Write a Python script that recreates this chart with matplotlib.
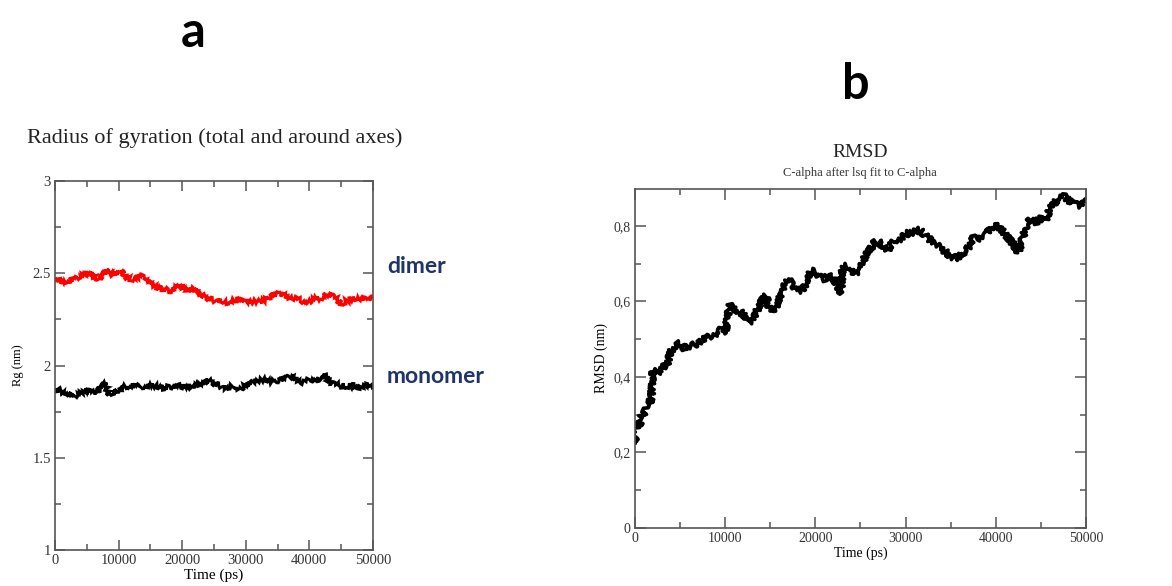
import matplotlib
matplotlib.use("Agg")
import matplotlib.pyplot as plt
from matplotlib.ticker import MultipleLocator, FixedLocator

SERIF = "Liberation Serif"
LABEL_FONT = "Lato"
NAVY = "#1f3566"

dimer_time = [0, 1000, 2000, 3000, 4000, 5000, 6000, 7000, 8000, 9000, 10000,
              10500, 11000, 12000, 13000, 14000, 15000, 16000, 17000, 18000,
              19000, 20000, 21000, 22000, 23000, 24000, 25000, 26000, 27000,
              28000, 29000, 30000, 31000, 32000, 33000, 34000, 35000, 36000,
              37000, 38000, 39000, 40000, 41000, 42000, 43000, 44000, 45000,
              46000, 47000, 48000, 49000, 50000]
dimer_rg = [2.47, 2.455, 2.46, 2.47, 2.48, 2.505, 2.49, 2.465, 2.52, 2.49, 2.50,
            2.52, 2.485, 2.465, 2.48, 2.49, 2.445, 2.425, 2.418, 2.405,
            2.418, 2.435, 2.405, 2.418, 2.378, 2.362, 2.352, 2.35, 2.34,
            2.358, 2.358, 2.345, 2.348, 2.348, 2.352, 2.38, 2.39, 2.38,
            2.37, 2.365, 2.35, 2.35, 2.362, 2.368, 2.39, 2.37, 2.338,
            2.352, 2.36, 2.362, 2.37, 2.36]

monomer_time = [0, 1000, 2000, 3000, 4000, 5000, 6000, 7000, 7800, 8300, 9000,
                10000, 11000, 12000, 13000, 14000, 15000, 16000, 17000, 18000,
                19000, 20000, 21000, 22000, 23000, 24000, 25000, 26000, 27000,
                28000, 29000, 30000, 31000, 32000, 33000, 34000, 35000, 36000,
                37000, 38000, 39000, 40000, 41000, 42000, 42500, 43000, 44000,
                45000, 46000, 47000, 48000, 49000, 50000]
monomer_rg = [1.866, 1.866, 1.85, 1.83, 1.85, 1.866, 1.86, 1.866, 1.91, 1.84, 1.85,
              1.87, 1.885, 1.89, 1.89, 1.885, 1.89, 1.888, 1.88, 1.885,
              1.888, 1.888, 1.89, 1.888, 1.90, 1.92, 1.90, 1.888, 1.875,
              1.888, 1.875, 1.89, 1.91, 1.92, 1.925, 1.91, 1.92, 1.93,
              1.94, 1.925, 1.91, 1.925, 1.93, 1.925, 1.957, 1.91, 1.90,
              1.89, 1.89, 1.89, 1.875, 1.90, 1.89]

rmsd_time = [0, 250, 500, 750, 1000, 1250, 1500, 1750, 2000, 2500, 3000, 3500,
             4000, 4500, 5000, 5500, 6000, 6500, 7000, 7500, 8000, 8500, 9000,
             9500, 10000, 10500, 11000, 11500, 12000, 12500, 13000, 13500,
             14000, 14500, 15000, 15500, 16000, 16500, 17000, 17500, 18000,
             18500, 19000, 19500, 20000, 20500, 21000, 21500, 22000, 22500,
             22800, 23000, 23500, 24000, 24500, 25000, 25500, 26000, 26500,
             27000, 27500, 28000, 28500, 29000, 29500, 30000, 30500, 31000,
             31500, 32000, 32500, 33000, 33500, 34000, 34500, 35000, 35500,
             36000, 36500, 37000, 37500, 38000, 38500, 39000, 39500, 40000,
             40500, 41000, 41500, 42000, 42500, 43000, 43500, 44000, 44500,
             45000, 45500, 46000, 46500, 47000, 47500, 48000, 48500, 49000,
             49500, 50000]
rmsd_nm = [0.225, 0.28, 0.27, 0.30, 0.30, 0.32, 0.34, 0.33, 0.42, 0.41, 0.425, 0.43,
           0.47, 0.48, 0.49, 0.475, 0.48, 0.485, 0.49, 0.50, 0.505, 0.51, 0.515,
           0.525, 0.515, 0.59, 0.58, 0.57, 0.57, 0.545, 0.55, 0.575,
           0.60, 0.615, 0.575, 0.58, 0.605, 0.645, 0.66, 0.64, 0.63,
           0.63, 0.65, 0.68, 0.68, 0.665, 0.66, 0.67, 0.66, 0.64,
           0.62, 0.685, 0.695, 0.68, 0.675, 0.685, 0.72, 0.735, 0.755,
           0.76, 0.745, 0.735, 0.755, 0.765, 0.765, 0.78, 0.78, 0.785,
           0.79, 0.78, 0.77, 0.755, 0.75, 0.74, 0.73, 0.72, 0.715,
           0.72, 0.73, 0.745, 0.77, 0.765, 0.77, 0.78, 0.795, 0.80,
           0.795, 0.78, 0.765, 0.75, 0.73, 0.77, 0.81, 0.82, 0.81,
           0.82, 0.815, 0.845, 0.86, 0.875, 0.88, 0.87, 0.86, 0.855,
           0.855, 0.87]

rg_yticks = [1, 1.5, 2, 2.5, 3]
rg_ylabels = ["1", "1.5", "2", "2.5", "3"]
rmsd_yticks = [0, 0.2, 0.4, 0.6, 0.8]
rmsd_ylabels = ["0", "0,2", "0,4", "0,6", "0,8"]
time_ticks = [0, 10000, 20000, 30000, 40000, 50000]


def style_axes(ax, tick_size, major_len, minor_len):
    for s in ax.spines.values():
        s.set_color("#555555")
        s.set_linewidth(1.2)
    ax.tick_params(which="both", direction="in", top=True, right=True,
                   color="#555555", width=1.1)
    ax.tick_params(which="major", length=major_len, labelsize=tick_size, pad=3)
    ax.tick_params(which="minor", length=minor_len)
    for lab in ax.get_xticklabels() + ax.get_yticklabels():
        lab.set_fontfamily(SERIF)
        lab.set_color("#333333")


def noisy_line(ax, x, y, color, lw, wiggle, length=1.2, randomness=3,
               join="miter"):
    line, = ax.plot(x, y, color=color, lw=lw, solid_joinstyle=join)
    line.set_sketch_params(scale=wiggle, length=length, randomness=randomness)
    return line


fig = plt.figure(figsize=(11.72, 5.86), dpi=100)

ax1 = fig.add_axes([0.0469, 0.0614, 0.2713, 0.6297])
noisy_line(ax1, dimer_time, dimer_rg, "red", 2.2, 2.6)
noisy_line(ax1, monomer_time, monomer_rg, "black", 2.2, 2.6)
ax1.set_xlim(0, 50000)
ax1.set_ylim(1, 3)
ax1.set_xticks(time_ticks)
ax1.xaxis.set_minor_locator(MultipleLocator(5000))
ax1.set_yticks(rg_yticks, rg_ylabels)
ax1.yaxis.set_minor_locator(MultipleLocator(0.25))
style_axes(ax1, 10.5, 7, 4)
ax1.set_xlabel("Time (ps)", fontfamily=SERIF, fontsize=11, labelpad=1)
ax1.set_ylabel("Rg (nm)", fontfamily=SERIF, fontsize=9, labelpad=6)

fig.text(0.183, 0.765, "Radius of gyration (total and around axes)",
         fontfamily=SERIF, fontsize=16, ha="center", va="center", color="#222222")
fig.text(0.165, 0.945, "a", fontfamily=LABEL_FONT, fontweight="bold",
         fontsize=35, ha="center", va="center")
fig.text(0.330, 0.545, "dimer", fontfamily=LABEL_FONT, fontweight="bold",
         fontsize=16.5, ha="left", va="center", color=NAVY)
fig.text(0.330, 0.357, "monomer", fontfamily=LABEL_FONT, fontweight="bold",
         fontsize=16.5, ha="left", va="center", color=NAVY)

ax2 = fig.add_axes([0.5418, 0.0990, 0.3848, 0.5785])
noisy_line(ax2, rmsd_time, rmsd_nm, "black", 2.6, 3.0, length=1.0,
           randomness=2, join="round")
ax2.set_xlim(0, 50000)
ax2.set_ylim(0, 0.898)
ax2.set_xticks(time_ticks)
ax2.xaxis.set_minor_locator(MultipleLocator(5000))
ax2.set_yticks(rmsd_yticks, rmsd_ylabels)
ax2.yaxis.set_minor_locator(FixedLocator([0.1, 0.3, 0.5, 0.7]))
style_axes(ax2, 10, 8, 4)
ax2.set_xlabel("Time (ps)", fontfamily=SERIF, fontsize=10, labelpad=1)
ax2.set_ylabel("RMSD (nm)", fontfamily=SERIF, fontsize=10, labelpad=4)

fig.text(0.7338, 0.739, "RMSD", fontfamily=SERIF, fontsize=14,
         ha="center", va="center", color="#222222")
fig.text(0.7338, 0.705, "C-alpha after lsq fit to C-alpha", fontfamily=SERIF,
         fontsize=9, ha="center", va="center", color="#333333")
fig.text(0.730, 0.855, "b", fontfamily=LABEL_FONT, fontweight="bold",
         fontsize=35, ha="center", va="center")

fig.savefig("out.png", dpi=100)
